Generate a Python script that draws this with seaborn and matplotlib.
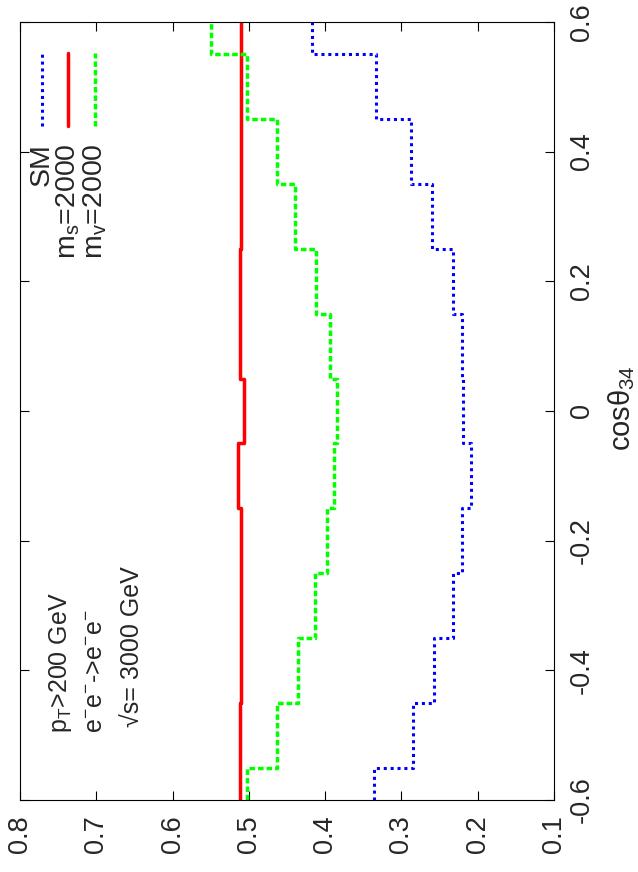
"""
Rotated gnuplot-style histogram of the cos(theta_34) distribution (SM vs new physics).
"""

import matplotlib
matplotlib.use('Agg')
import matplotlib.pyplot as plt
import seaborn as sns

# bin centres in cos(theta_34)
cos_theta = [-0.6, -0.5, -0.4, -0.3, -0.2, -0.1, 0.0, 0.1, 0.2, 0.3, 0.4, 0.5, 0.6]
# normalised distributions, one value per bin
sm_vals = [0.336, 0.285, 0.257, 0.232, 0.221, 0.209, 0.219, 0.221, 0.233, 0.260, 0.288, 0.333, 0.417]
ms_vals = [0.511, 0.511, 0.510, 0.510, 0.510, 0.514, 0.507, 0.511, 0.512, 0.510, 0.510, 0.510, 0.510]
mv_vals = [0.503, 0.463, 0.435, 0.413, 0.398, 0.389, 0.385, 0.394, 0.412, 0.439, 0.463, 0.503, 0.550]

val_ticks = [0.8, 0.7, 0.6, 0.5, 0.4, 0.3, 0.2, 0.1]
val_labels = ['0.8', '0.7', '0.6', '0.5', '0.4', '0.3', '0.2', '0.1']
cos_ticks = [-0.6, -0.4, -0.2, 0.0, 0.2, 0.4, 0.6]
cos_labels = ['-0.6', '-0.4', '-0.2', '0', '0.2', '0.4', '0.6']

series_labels = ['SM', 'm$_s$=2000', 'm$_v$=2000']
notes = ['p$_T$>200 GeV', 'e$^{-}$e$^{-}$->e$^{-}$e$^{-}$', '√s= 3000 GeV']

sns.set_style('white')
plt.rcParams['font.family'] = ['Liberation Sans', 'DejaVu Sans']
plt.rcParams['mathtext.fontset'] = 'custom'
plt.rcParams['mathtext.rm'] = 'Liberation Sans'
plt.rcParams['mathtext.it'] = 'Liberation Sans'
plt.rcParams['mathtext.bf'] = 'Liberation Sans'

# bin edges: half way between centres, clipped at the range ends (gnuplot histeps)
edges = [cos_theta[0]] + [(a + b) / 2 for a, b in zip(cos_theta[:-1], cos_theta[1:])] + [cos_theta[-1]]

styles = [
    dict(color='#0000ff', linestyle=(0, (1.0, 1.25)), linewidth=2.2),
    dict(color='#ff0000', linestyle='-', linewidth=2.5),
    dict(color='#00ff00', linestyle=(0, (1.6, 0.85)), linewidth=2.5),
]


def plot_steps(ax, vals, style):
    """Histogram steps drawn sideways: value on x, cos(theta) on y."""
    xs = list(vals) + [vals[-1]]
    sns.lineplot(x=xs, y=edges, ax=ax, sort=False, estimator=None,
                 drawstyle='steps-pre', **style)


fig = plt.figure(figsize=(6.38, 8.72), dpi=100)
ax = fig.add_axes([20 / 638, 72 / 872, 534 / 638, 778 / 872])

for vals, st in zip([sm_vals, ms_vals, mv_vals], styles):
    plot_steps(ax, vals, st)

ax.set_xlim(0.8, 0.1)
ax.set_ylim(-0.6, 0.6)
ax.set_xticks(val_ticks)
ax.set_xticklabels(val_labels)
ax.set_yticks(cos_ticks)
ax.set_yticklabels(cos_labels)
ax.tick_params(axis='both', direction='in', length=6.5, width=0.8, color='black',
               top=True, bottom=True, left=True, right=True, labelsize=19.5)
ax.tick_params(axis='x', labelrotation=90, pad=11)
ax.tick_params(axis='y', labelleft=False, labelright=True, labelrotation=90, pad=10.5)
for lab in ax.get_yticklabels():
    lab.set_va('center')

for sp in ax.spines.values():
    sp.set_color('black')
    sp.set_linewidth(0.8)

ax.set_xlabel('')
ax.set_ylabel('cos$\\theta_{34}$', fontsize=21, rotation=90)
ax.yaxis.set_label_position('right')
ax.yaxis.set_label_coords(1.127, 0.503)
ax.yaxis.label.set_ha('center')
ax.yaxis.label.set_va('center')

# key, written sideways like the rest of the page
for i, (lab, st) in enumerate(zip(series_labels, styles)):
    xk = 0.0406 + i * 0.0502
    ax.plot([xk, xk], [0.866, 0.960], transform=ax.transAxes, **st)
    ax.text(xk, 0.8445, lab, transform=ax.transAxes, rotation=90,
            ha='center', va='top', fontsize=20.5)

# cut / process annotations
for txt, xf, yf in zip(notes, [0.076, 0.143, 0.209], [0.0861, 0.0861, 0.0938]):
    ax.text(xf, yf, txt, transform=ax.transAxes, rotation=90,
            ha='center', va='bottom', fontsize=18)

fig.savefig('out.png', dpi=100)
